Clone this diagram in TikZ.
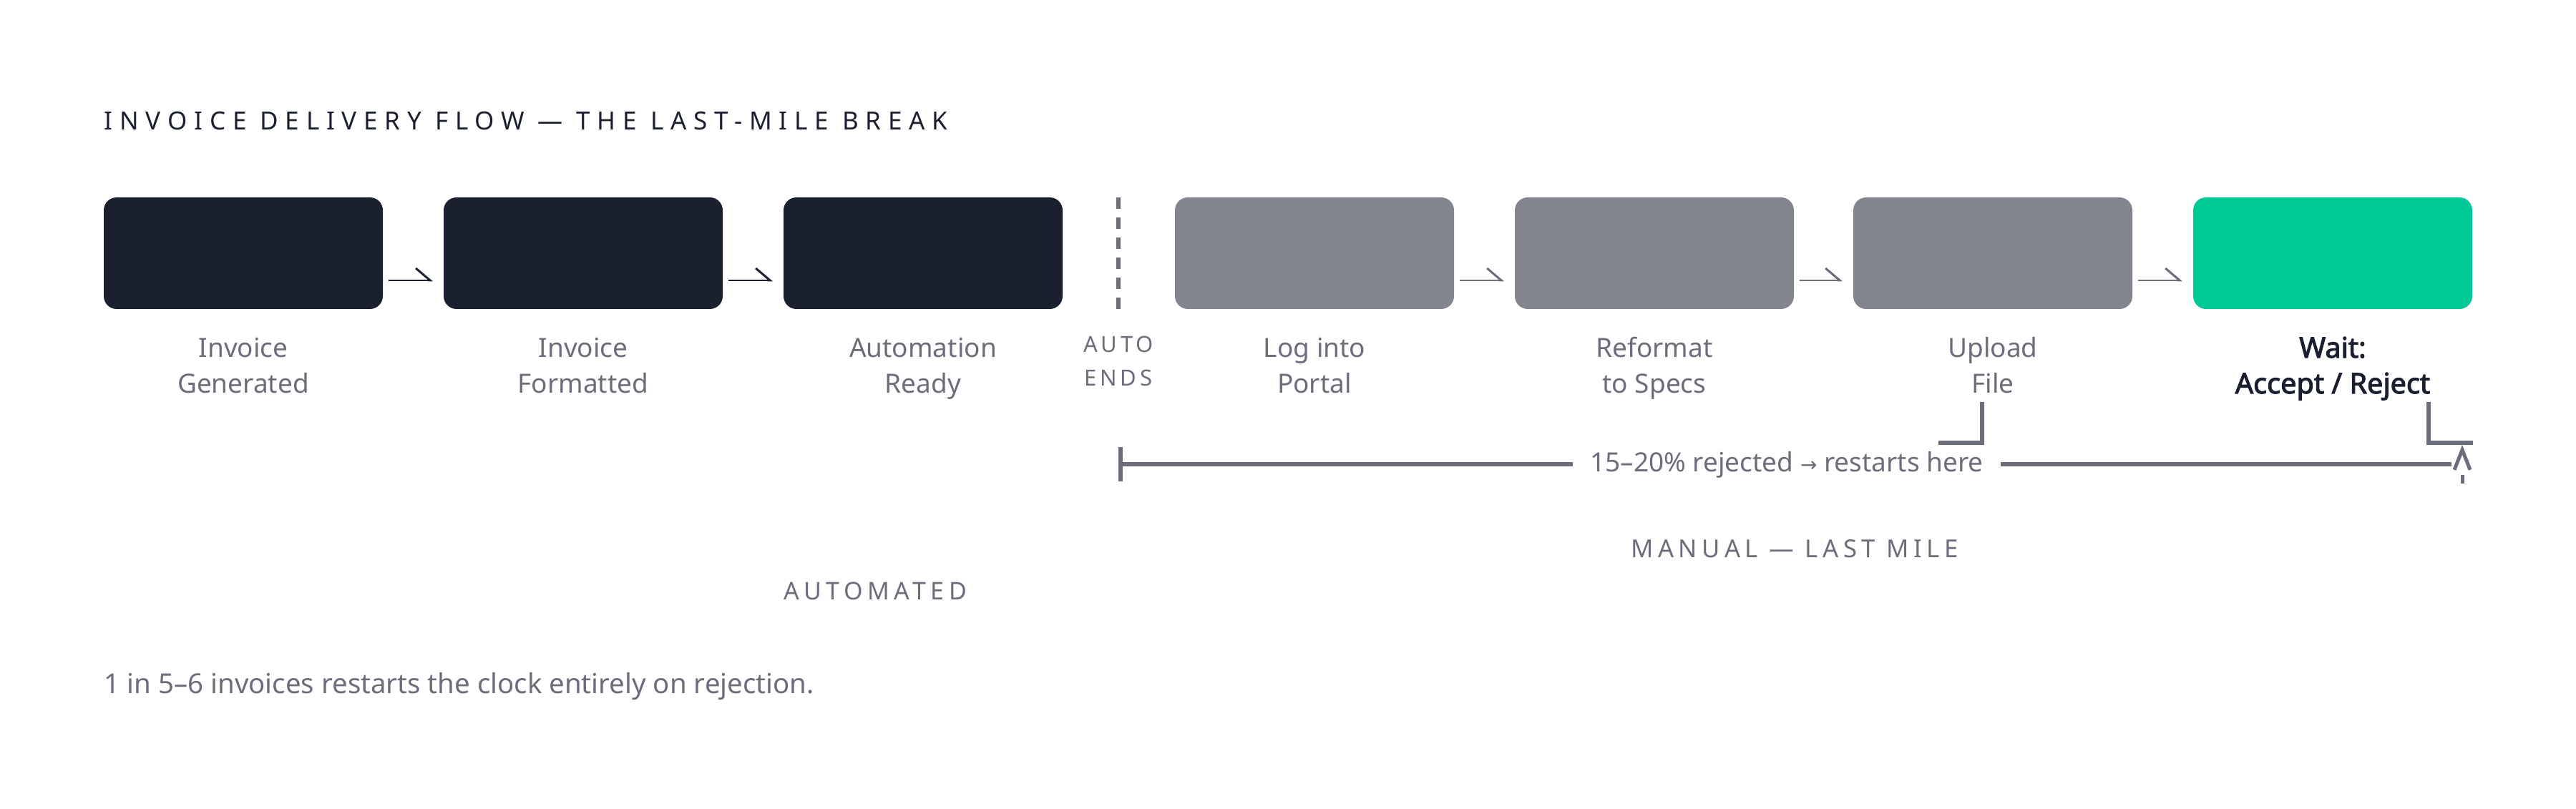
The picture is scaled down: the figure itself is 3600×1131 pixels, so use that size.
\documentclass[tikz,border=0pt]{standalone}
\usepackage{fontspec}
\setmainfont{Noto Sans}
\newfontfamily\titlefont[LetterSpace=28]{Noto Sans}
\newfontfamily\sectfont[LetterSpace=19]{Noto Sans}
\newfontfamily\tagfont[LetterSpace=15]{Noto Sans}
\newfontfamily\waitfont[FakeBold=2.6]{Noto Sans}
\newfontfamily\arrowfont{DejaVu Sans}
\usepackage{tikz}
\usetikzlibrary{arrows.meta,positioning}

\definecolor{inkdark}{HTML}{1B2030}
\definecolor{stepgray}{HTML}{82858E}
\definecolor{textgray}{HTML}{6B6E7A}
\definecolor{waitgreen}{HTML}{00C896}

\begin{document}
\begin{tikzpicture}[x=0.25pt,y=-0.25pt, line cap=butt, line join=miter]
				\useasboundingbox (0,0) rectangle (3600,1131);
				
				% ===== styles =====
				\tikzset{
					stepbox/.style={minimum width=97.5pt, minimum height=39pt, rounded corners=4.5pt, inner sep=0pt},
					steplabel/.style={text=textgray, align=center, anchor=base, inner sep=0pt, font=\fontsize{9.25pt}{12.5pt}\selectfont},
					flow/.style={line width=0.65pt, -{Straight Barb[harpoon, length=5pt, width=8.5pt, line width=0.75pt]}},
					loopline/.style={draw=textgray, line width=1.4pt},
					sectlabel/.style={text=textgray, anchor=base, inner sep=0pt, font=\sectfont\fontsize{8.5pt}{10pt}\selectfont}
				}
				
				% ===== title =====
				\node[anchor=base west, inner sep=0pt, text=inkdark, font=\titlefont\fontsize{8.75pt}{10pt}\selectfont] (title) at (145,182) {INVOICE DELIVERY FLOW — THE LAST-MILE BREAK};
				
				% ===== steps =====
				\foreach \name/\x/\col in {ingen/340/inkdark, infmt/815/inkdark, autordy/1290/inkdark, portal/1837/stepgray, reformat/2312/stepgray, upload/2785/stepgray, wait/3260/waitgreen}{
					\node[stepbox, fill=\col] (\name) at (\x,354) {};
				}
				
				% ===== arrows between steps =====
				\foreach \a/\b/\col in {ingen/infmt/inkdark, infmt/autordy/inkdark, portal/reformat/textgray, reformat/upload/textgray, upload/wait/textgray}{
					\draw[flow, draw=\col] ([shift={(7,38)}]\a.east) -- ([shift={(-14,38)}]\b.west);
				}
				
				% ===== labels (base = last line) =====
				\foreach \name/\x/\txt in {ingen/340/{Invoice\\Generated}, infmt/815/{Invoice\\Formatted}, autordy/1290/{Automation\\Ready}, portal/1837/{Log into\\Portal}, reformat/2312/{Reformat\\to Specs}, upload/2785/{Upload\\File}}{
					\node[steplabel] (\name-lbl) at (\x,550) {\txt};
				}
				\node[steplabel, text=inkdark, font=\waitfont\fontsize{9.9pt}{12.5pt}\selectfont] (wait-lbl) at (3260,550) {Wait:\\Accept / Reject};
				
				% ===== automation cut =====
				\coordinate (cut-top) at (1563,276);
				\coordinate (cut-bot) at (1563,432);
				\draw[textgray, line width=1.5pt, dash pattern=on 4pt off 3pt] (cut-top) -- (cut-bot);
				\node[text=textgray, align=center, anchor=base, inner sep=0pt, font=\tagfont\fontsize{7.75pt}{11.75pt}\selectfont] (autoends) at (1563,540) {AUTO\\ENDS};
				
				% ===== rejection loop =====
				\coordinate (rej-start) at (1566,649);
				\coordinate (rej-end) at (3426,649);
				\node[text=textgray, anchor=base, inner xsep=6pt, inner ysep=0pt, font=\fontsize{9.25pt}{11pt}\selectfont] (rejnote) at (2497,660) {15–20\% rejected {\arrowfont\fontsize{7pt}{8pt}\selectfont →} restarts here};
				\draw[loopline] (rej-start) -- (rejnote.west |- rej-start);
				\draw[loopline] (rejnote.east |- rej-end) -- (rej-end);
				\draw[loopline] ([shift={(0,-24)}]rej-start) -- ([shift={(0,24)}]rej-start);
				
				\coordinate (up-top) at (2770,562);
				\coordinate (up-foot) at (2709,619);
				\draw[loopline, line width=1.3pt] (up-top) |- (up-foot);
				\coordinate (wt-top) at (3394,562);
				\coordinate (wt-foot) at (3456,619);
				\draw[loopline, line width=1.3pt] (wt-top) |- (wt-foot);
				
				\coordinate (ret-tail) at (3441,676);
				\coordinate (ret-tip) at (3441,622);
				\draw[loopline, line width=1.25pt, dash pattern=on 3pt off 40pt, -{Straight Barb[length=7pt, width=5.5pt]}] (ret-tail) -- (ret-tip);
				
				% ===== section labels =====
				\node[sectlabel, font=\sectfont\fontsize{8.65pt}{10pt}\selectfont] (manual) at (2508,780) {MANUAL — LAST MILE};
				\node[sectlabel] (automated) at (1223,839) {AUTOMATED};
				
				% ===== footnote =====
				\node[anchor=base west, inner sep=0pt, text=textgray, font=\fontsize{9.6pt}{11pt}\selectfont] (footnote) at (145,970) {1 in 5–6 invoices restarts the clock entirely on rejection.};
			\end{tikzpicture}
\end{document}
